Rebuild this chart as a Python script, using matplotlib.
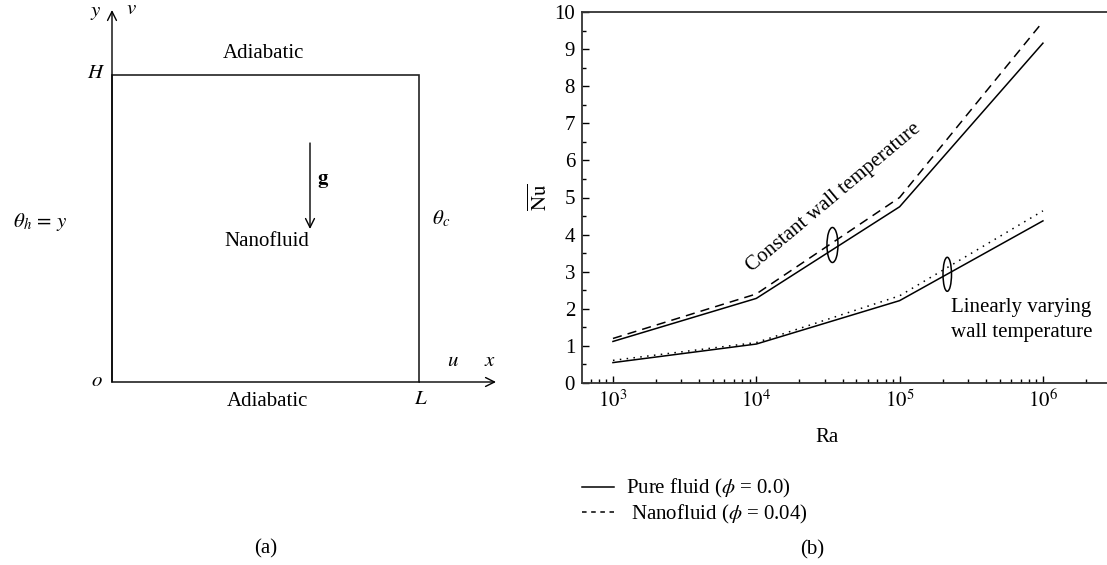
"""Cavity sketch (a) and average Nusselt number vs Rayleigh number (b)."""

import matplotlib

matplotlib.use("Agg")
import matplotlib.pyplot as plt
from matplotlib.lines import Line2D
from matplotlib.patches import Ellipse, Rectangle
from matplotlib.ticker import LogLocator, MultipleLocator, NullFormatter
import matplotlib.transforms as mtransforms

plt.rcParams["font.family"] = ["Liberation Serif", "DejaVu Serif"]
plt.rcParams["mathtext.fontset"] = "stix"

W, H = 1107, 565
FS = 15

# Rayleigh numbers and mean Nusselt numbers
ra = [1e3, 1e4, 1e5, 1e6]
nu_const_pure = [1.12, 2.28, 4.75, 9.16]
nu_const_nano = [1.20, 2.40, 5.00, 9.74]
nu_lin_pure = [0.55, 1.05, 2.22, 4.37]
nu_lin_nano = [0.61, 1.09, 2.35, 4.64]

# where the two brackets sit (Ra, Nu)
bracket_const = (3.4e4, 3.72)
bracket_lin = (2.15e5, 2.93)

fig = plt.figure(figsize=(W / 100, H / 100), dpi=100)

# ---- (a): sketch drawn in pixel coordinates over the whole figure
sk = fig.add_axes([0, 0, 1, 1])
sk.set_xlim(0, W)
sk.set_ylim(H, 0)
sk.axis("off")

box = (112, 75, 419, 382)  # left, top, right, bottom
sk.add_patch(Rectangle((box[0], box[1]), box[2] - box[0], box[3] - box[1],
                       fill=False, lw=1.2, ec="#222222"))
arrow = dict(arrowstyle="->", lw=1.0, color="black", mutation_scale=16,
             shrinkA=0, shrinkB=0)
sk.annotate("", xy=(112, 10), xytext=(112, 382), arrowprops=arrow)
sk.annotate("", xy=(496, 382), xytext=(419, 382), arrowprops=arrow)
sk.annotate("", xy=(310, 229), xytext=(310, 143), arrowprops=arrow)

txt = dict(fontsize=FS, ha="center", va="center")
sk.text(96, 12, "$y$", **txt)
sk.text(131, 10, "$v$", **txt)
sk.text(263, 53, "Adiabatic", **txt)
sk.text(96, 73, "$H$", **txt)
sk.text(323, 180, r"$\mathbf{g}$", **txt)
sk.text(40, 222, r"$\theta_h\, =\, y$", **txt)
sk.text(267, 241, "Nanofluid", **txt)
sk.text(441, 219, r"$\theta_c$", **txt)
sk.text(453, 361, "$u$", **txt)
sk.text(490, 361, "$x$", **txt)
sk.text(97, 382, "$o$", **txt)
sk.text(421, 400, "$L$", **txt)
sk.text(267, 402, "Adiabatic", **txt)
sk.text(266, 549, "(a)", **txt)

# ---- (b): Nu vs Ra
ax = fig.add_axes([582 / W, 1 - 383 / H, (W - 582) / W, (383 - 12) / H])
ax.plot(ra, nu_const_pure, color="black", lw=1.1)
ax.plot(ra, nu_const_nano, color="black", lw=1.1, ls=(0, (6, 4)))
ax.plot(ra, nu_lin_pure, color="black", lw=1.1)
ax.plot(ra, nu_lin_nano, color="black", lw=1.1, ls=(0, (1, 3.5)))

ax.set_xscale("log")
ax.set_xlim(10 ** 2.784, 10 ** 6.447)
ax.set_ylim(0, 10)
ax.set_xticks(ra)
ax.set_xticklabels([r"$10^{3}$", r"$10^{4}$", r"$10^{5}$", r"$10^{6}$"])
ax.xaxis.set_minor_locator(LogLocator(base=10, subs=range(2, 10)))
ax.xaxis.set_minor_formatter(NullFormatter())
ax.yaxis.set_major_locator(MultipleLocator(1))
ax.yaxis.set_minor_locator(MultipleLocator(0.5))
ax.tick_params(which="both", direction="in", top=False, right=False,
               labelsize=FS, width=1.0, pad=5)
ax.tick_params(which="major", length=5)
ax.tick_params(which="minor", length=3)
ax.spines["right"].set_visible(False)
for s in ("left", "bottom", "top"):
    ax.spines[s].set_linewidth(1.3)
    ax.spines[s].set_color("#333333")

ax.set_ylabel(r"$\overline{\mathrm{Nu}}$", fontsize=FS, labelpad=2)

for (cx, cy), (w, h) in ((bracket_const, (0.11, 0.35)), (bracket_lin, (0.085, 0.34))):
    tr = fig.dpi_scale_trans + mtransforms.ScaledTranslation(cx, cy, ax.transData)
    ax.add_patch(Ellipse((0, 0), w, h, transform=tr, fill=False, lw=1.1,
                         ec="black"))

ax.text(1.0e4 * 10 ** (-0.03), 2.99, "Constant wall temperature", fontsize=FS,
        rotation=40, rotation_mode="anchor", ha="left", va="baseline")
ax.text(2.3e5, 1.70, "Linearly varying\nwall temperature", fontsize=FS,
        ha="left", va="center", linespacing=1.4)

sk.text(827, 437, "Ra", **txt)
handles = [Line2D([], [], color="black", lw=1.1),
           Line2D([], [], color="black", lw=1.1, ls=(0, (3, 3)))]
fig.legend(handles, [r"Pure fluid ($\phi$ = 0.0)", r" Nanofluid ($\phi$ = 0.04)"],
           loc="upper left", bbox_to_anchor=(572 / W, 1 - 467 / H),
           frameon=False, fontsize=FS, handlelength=1.5, handletextpad=0.6,
           labelspacing=0.12, borderpad=0)
sk.text(812, 550, "(b)", **txt)

fig.savefig("out.png", dpi=100)
